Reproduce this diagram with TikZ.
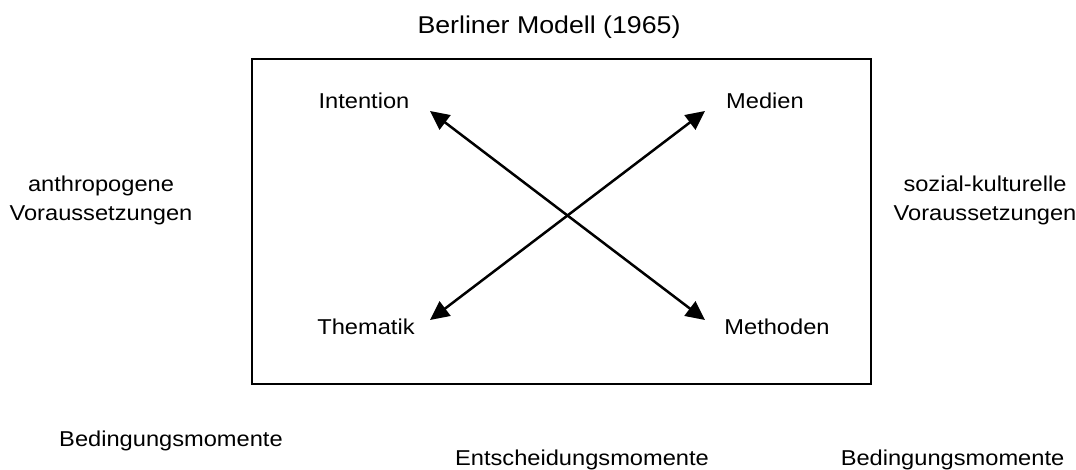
\documentclass[tikz,border=0pt]{standalone}
\usepackage{fontspec}
\setmainfont{Liberation Sans}[FakeStretch=1.1]
\usetikzlibrary{arrows.meta}
\tikzset{
  lbl/.style={inner sep=0pt, font=\fontsize{21.5}{29}\selectfont, align=center},
  ttl/.style={inner sep=0pt, font=\fontsize{24.3}{30}\selectfont},
  frame/.style={draw=black, line width=2pt},
  dblarrow/.style={line width=2.5pt, {Triangle[length=19pt,width=18pt]}-{Triangle[length=19pt,width=18pt]}}
}
\begin{document}
\begin{tikzpicture}[x=1pt,y=-1pt]
  \useasboundingbox (0,0) rectangle (1076,470);
  % title and frame
  \node[ttl] (title) at (549,27) {Berliner Modell (1965)};
  \node[frame, minimum width=619pt, minimum height=324pt, inner sep=0pt] (box) at (561.5,221.5) {};
  % the four decision factors
  \node[lbl] (int) at (364,100.5) {Intention};
  \node[lbl] (med) at (765,100.5) {Medien};
  \node[lbl] (them) at (366,327) {Thematik};
  \node[lbl] (meth) at (777,327) {Methoden};
  % arrow end points
  \coordinate (intTip) at (430,111);
  \coordinate (medTip) at (705,111);
  \coordinate (themTip) at (430,320);
  \coordinate (methTip) at (705,320);
  \draw[dblarrow] (intTip) -- (methTip);
  \draw[dblarrow] (themTip) -- (medTip);
  % conditions on either side
  \node[lbl] (anthro) at (101,200) {anthropogene\\Voraussetzungen};
  \node[lbl] (sozial) at (985,200) {sozial-kulturelle\\Voraussetzungen};
  % bottom row
  \node[lbl] (bedL) at (171,441) {Bedingungsmomente};
  \node[lbl] (ents) at (582,459.5) {Entscheidungsmomente};
  \node[lbl] (bedR) at (952.5,459.5) {Bedingungsmomente};
\end{tikzpicture}
\end{document}
